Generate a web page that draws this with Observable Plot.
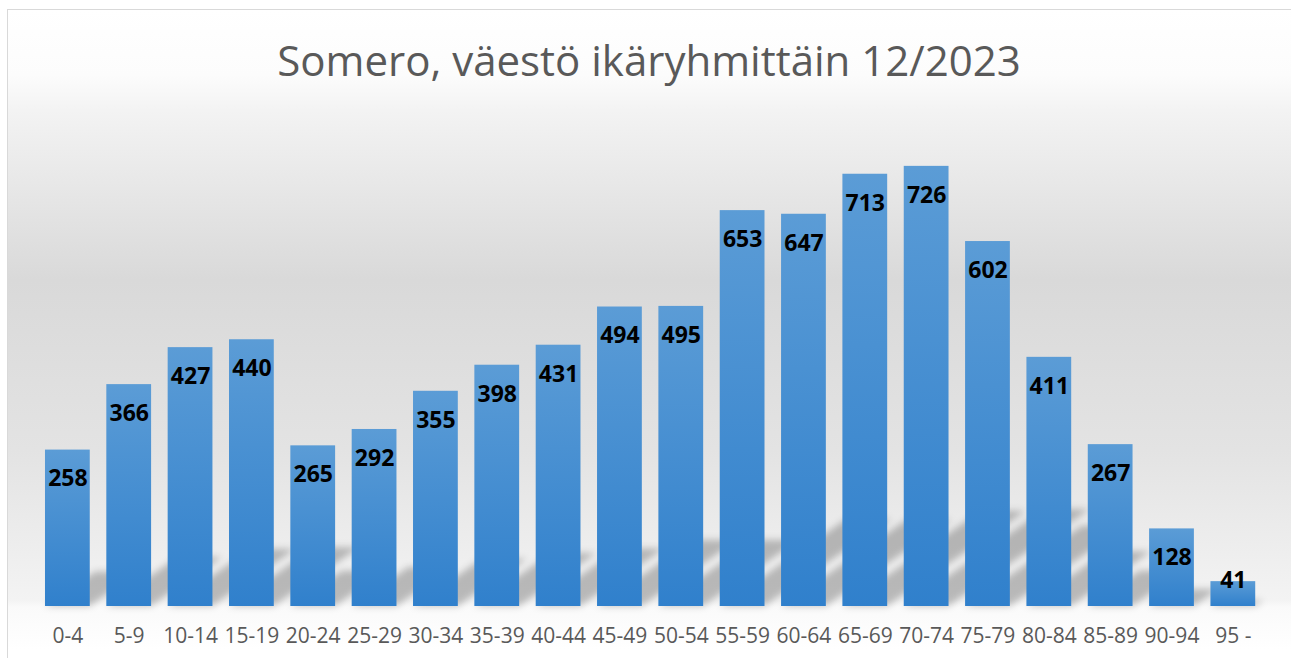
<!DOCTYPE html>
<html>
<head>
<meta charset="utf-8">
<script src="https://cdn.jsdelivr.net/npm/d3@7"></script>
<script src="https://cdn.jsdelivr.net/npm/@observablehq/plot@0.6"></script>
<style>
  html, body { margin: 0; padding: 0; background: #fff; }
  #chart { position: relative; width: 1291px; height: 658px; overflow: hidden; background: #fff; }
  #frame { position: absolute; left: 7px; top: 9px; width: 1300px; height: 700px; border: 1px solid #d9d9d9;
    background: linear-gradient(to bottom, #ffffff 0px, #fcfcfc 65px, #f3f3f3 100px, #d9d9d9 270px, #e3e3e3 440px, #f3f3f3 590px, #fafafa 597px, #ffffff 640px); }
  #title { position: absolute; left: 0; width: 1298px; top: 39px; text-align: center; font-family: "Open Sans", sans-serif;
    font-size: 42px; line-height: 42px; color: #595959; white-space: nowrap; }
  #plot { position: absolute; left: 0; top: 100px; }
</style>
</head>
<body>
<div id="chart">
  <div id="frame"></div>
  <div id="title">Somero, väestö ikäryhmittäin 12/2023</div>
  <div id="plot"></div>
</div>
<script>
const ages = ["0-4","5-9","10-14","15-19","20-24","25-29","30-34","35-39","40-44","45-49","50-54","55-59","60-64","65-69","70-74","75-79","80-84","85-89","90-94","95 -"];
const population = [258,366,427,440,265,292,355,398,431,494,495,653,647,713,726,602,411,267,128,41];

const data = ages.map((a, i) => ({age: a, value: population[i]}));

const chart = Plot.plot({
  width: 1291,
  height: 558,
  marginTop: 21,
  marginBottom: 52,
  marginLeft: 36.7,
  marginRight: 27.5,
  style: {background: "transparent", fontFamily: "'Open Sans', sans-serif", fontSize: "21px", color: "#595959", overflow: "visible"},
  x: {domain: ages, paddingInner: 0.27, paddingOuter: 0.135, round: false, label: null, tickSize: 0, tickPadding: 22},
  y: {domain: [0, 800], axis: null},
  marks: [
    Plot.barY(data, {x: "age", y: "value", fill: "#000", className: "shadowbars"}),
    Plot.barY(data, {x: "age", y: "value", fill: "url(#barGrad)"}),
    Plot.text(data.filter(d => d.value >= 100), {x: "age", y: "value", text: d => String(d.value), dy: 29, fontSize: 23, fontWeight: "bold", fill: "#000"}),
    Plot.text(data.filter(d => d.value < 100), {x: "age", y: "value", text: d => String(d.value), dy: -1, fontSize: 23, fontWeight: "bold", fill: "#000"})
  ]
});

const svg = d3.select(chart);
const defs = svg.insert("defs", ":first-child");
const g = defs.append("linearGradient").attr("id", "barGrad").attr("x1", 0).attr("y1", 0).attr("x2", 0).attr("y2", 1);
g.append("stop").attr("offset", "0%").attr("stop-color", "#5b9cd6");
g.append("stop").attr("offset", "100%").attr("stop-color", "#3080cc");
const f = defs.append("filter").attr("id", "shadowBlur").attr("x", "-50%").attr("y", "-50%").attr("width", "200%").attr("height", "200%");
f.append("feGaussianBlur").attr("stdDeviation", 3.5);

const s = 0.22, k = 0.32;
svg.selectAll("g.shadowbars").attr("filter", "url(#shadowBlur)").attr("fill-opacity", 0.24);
svg.selectAll("g.shadowbars rect").each(function() {
  const r = d3.select(this);
  const y = +r.attr("y"), h = +r.attr("height");
  const y0 = y + h;
  r.attr("transform", `matrix(1,0,${-k},${s},${k * y0},${y0 * (1 - s)})`);
});

document.getElementById("plot").appendChild(chart);
</script>
</body>
</html>
